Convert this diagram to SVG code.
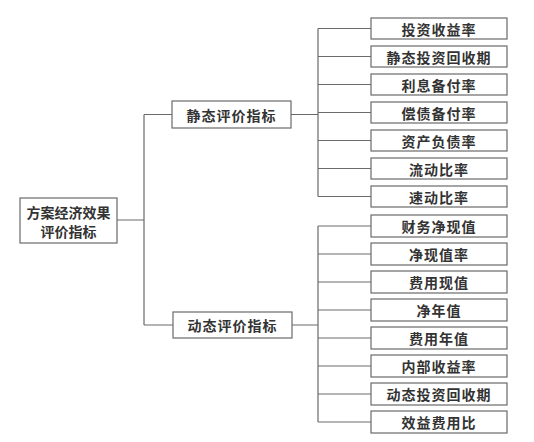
<svg xmlns="http://www.w3.org/2000/svg" width="534" height="442" viewBox="0 0 534 442">
<style>
rect{fill:#fff;stroke:#6a6a6a;stroke-width:1.2}
text{font-family:"Noto Sans CJK SC","Noto Sans CJK TC",sans-serif;font-size:14px;fill:#333;text-anchor:middle;dominant-baseline:central;font-weight:bold}
.s{letter-spacing:1px}
#connectors path{fill:none;stroke:#6a6a6a;stroke-width:1.2}
</style>
<rect x="0" y="0" width="534" height="442" style="fill:#fff;stroke:none"/>
<g id="connectors">
<path d="M117 220H144M144 114.5V325M144 114.5H172M144 325H173"/>
<path d="M291 114.5H318M318 28.5V196.5M318 28.5H371M318 56.5H371M318 84.5H371M318 112.5H371M318 140.5H371M318 168.5H371M318 196.5H371"/>
<path d="M292 325H318M318 226V422M318 226H371M318 254H371M318 282H371M318 310H371M318 338H371M318 366H371M318 394H371M318 422H371"/>
</g>
<g id="root"><rect x="20" y="198" width="97" height="45"/><text x="68.5" y="212">方案经济效果</text><text x="68.5" y="231">评价指标</text></g>
<g id="static"><rect x="172" y="101" width="119" height="27"/><text class="s" x="231.5" y="114.5">静态评价指标</text></g>
<g id="dynamic"><rect x="173" y="312" width="119" height="26"/><text class="s" x="232.5" y="325">动态评价指标</text></g>
<g id="s1"><rect x="371" y="18" width="136" height="21"/><text class="s" x="439" y="28.5">投资收益率</text></g>
<g id="s2"><rect x="371" y="46" width="136" height="21"/><text class="s" x="439" y="56.5">静态投资回收期</text></g>
<g id="s3"><rect x="371" y="74" width="136" height="21"/><text class="s" x="439" y="84.5">利息备付率</text></g>
<g id="s4"><rect x="371" y="102" width="136" height="21"/><text class="s" x="439" y="112.5">偿债备付率</text></g>
<g id="s5"><rect x="371" y="130" width="136" height="21"/><text class="s" x="439" y="140.5">资产负债率</text></g>
<g id="s6"><rect x="371" y="158" width="136" height="21"/><text class="s" x="439" y="168.5">流动比率</text></g>
<g id="s7"><rect x="371" y="186" width="136" height="21"/><text class="s" x="439" y="196.5">速动比率</text></g>
<g id="d1"><rect x="371" y="215" width="136" height="22"/><text class="s" x="439" y="226">财务净现值</text></g>
<g id="d2"><rect x="371" y="243" width="136" height="22"/><text class="s" x="439" y="254">净现值率</text></g>
<g id="d3"><rect x="371" y="271" width="136" height="22"/><text class="s" x="439" y="282">费用现值</text></g>
<g id="d4"><rect x="371" y="299" width="136" height="22"/><text class="s" x="439" y="310">净年值</text></g>
<g id="d5"><rect x="371" y="327" width="136" height="22"/><text class="s" x="439" y="338">费用年值</text></g>
<g id="d6"><rect x="371" y="355" width="136" height="22"/><text class="s" x="439" y="366">内部收益率</text></g>
<g id="d7"><rect x="371" y="383" width="136" height="22"/><text class="s" x="439" y="394">动态投资回收期</text></g>
<g id="d8"><rect x="371" y="411" width="136" height="22"/><text class="s" x="439" y="422">效益费用比</text></g>
</svg>
